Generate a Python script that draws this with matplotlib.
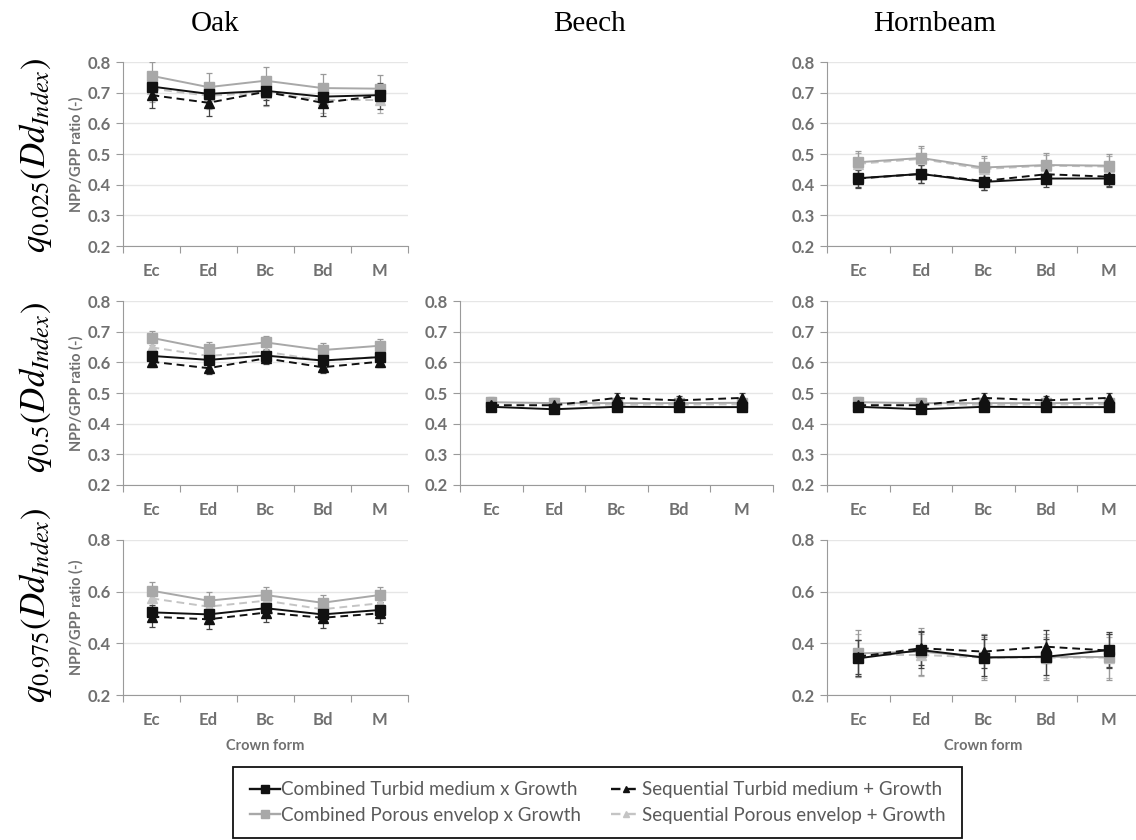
import matplotlib
matplotlib.use("Agg")
import matplotlib.pyplot as plt
from matplotlib.lines import Line2D
from matplotlib.patches import Rectangle
import numpy as np

plt.rcParams['mathtext.fontset'] = 'stix'

categories = ["Ec", "Ed", "Bc", "Bd", "M"]
species = ["Oak", "Beech", "Hornbeam"]
row_labels = [r"$q_{0.025}(Dd_{Index})$", r"$q_{0.5}(Dd_{Index})$", r"$q_{0.975}(Dd_{Index})$"]
series_names = ["Combined Turbid medium x Growth", "Sequential Turbid medium + Growth",
                "Combined Porous envelop x Growth", "Sequential Porous envelop + Growth"]

# Oak
oak_q025_ct = [0.720, 0.696, 0.706, 0.687, 0.692]
oak_q025_st = [0.692, 0.667, 0.703, 0.667, 0.690]
oak_q025_cp = [0.755, 0.718, 0.739, 0.715, 0.713]
oak_q025_sp = [0.713, 0.690, 0.700, 0.676, 0.676]
oak_q025_err = [0.030, 0.042, 0.045, 0.042]

oak_q05_ct = [0.621, 0.608, 0.622, 0.606, 0.617]
oak_q05_st = [0.602, 0.581, 0.613, 0.584, 0.602]
oak_q05_cp = [0.680, 0.643, 0.665, 0.640, 0.654]
oak_q05_sp = [0.649, 0.621, 0.635, 0.605, 0.618]
oak_q05_err = [0.018, 0.018, 0.022, 0.020]

oak_q975_ct = [0.520, 0.512, 0.536, 0.512, 0.529]
oak_q975_st = [0.503, 0.493, 0.519, 0.499, 0.516]
oak_q975_cp = [0.604, 0.565, 0.587, 0.557, 0.587]
oak_q975_sp = [0.574, 0.542, 0.565, 0.532, 0.555]
oak_q975_err = [0.030, 0.038, 0.032, 0.032]

# Beech (only median)
beech_q05_ct = [0.455, 0.447, 0.455, 0.454, 0.454]
beech_q05_st = [0.460, 0.460, 0.484, 0.476, 0.484]
beech_q05_cp = [0.470, 0.467, 0.467, 0.467, 0.468]
beech_q05_sp = [0.462, 0.462, 0.462, 0.462, 0.463]
beech_q05_err = [0.012, 0.015, 0.016, 0.014]

# Hornbeam
horn_q025_ct = [0.421, 0.435, 0.409, 0.420, 0.420]
horn_q025_st = [0.420, 0.435, 0.412, 0.434, 0.426]
horn_q025_cp = [0.473, 0.487, 0.456, 0.464, 0.462]
horn_q025_sp = [0.468, 0.484, 0.451, 0.462, 0.459]
horn_q025_err = [0.028, 0.030, 0.038, 0.035]

horn_q05_ct = [0.455, 0.447, 0.455, 0.454, 0.454]
horn_q05_st = [0.460, 0.460, 0.484, 0.476, 0.484]
horn_q05_cp = [0.470, 0.467, 0.467, 0.467, 0.468]
horn_q05_sp = [0.462, 0.462, 0.462, 0.462, 0.463]
horn_q05_err = [0.012, 0.015, 0.016, 0.014]

horn_q975_ct = [0.342, 0.374, 0.345, 0.348, 0.374]
horn_q975_st = [0.348, 0.381, 0.368, 0.387, 0.372]
horn_q975_cp = [0.361, 0.368, 0.347, 0.348, 0.347]
horn_q975_sp = [0.355, 0.355, 0.345, 0.345, 0.345]
horn_q975_err = [0.070, 0.065, 0.090, 0.080]

panels = {
    (0, 0): ([oak_q025_ct, oak_q025_st, oak_q025_cp, oak_q025_sp], oak_q025_err),
    (1, 0): ([oak_q05_ct, oak_q05_st, oak_q05_cp, oak_q05_sp], oak_q05_err),
    (2, 0): ([oak_q975_ct, oak_q975_st, oak_q975_cp, oak_q975_sp], oak_q975_err),
    (1, 1): ([beech_q05_ct, beech_q05_st, beech_q05_cp, beech_q05_sp], beech_q05_err),
    (0, 2): ([horn_q025_ct, horn_q025_st, horn_q025_cp, horn_q025_sp], horn_q025_err),
    (1, 2): ([horn_q05_ct, horn_q05_st, horn_q05_cp, horn_q05_sp], horn_q05_err),
    (2, 2): ([horn_q975_ct, horn_q975_st, horn_q975_cp, horn_q975_sp], horn_q975_err),
}

W, H = 1136, 840
fig = plt.figure(figsize=(W / 100, H / 100), dpi=100)

col_x = [(123, 408), (460, 773), (827, 1140)]
row_y = [(62, 246), (301, 485), (540, 695)]

styles = [
    dict(color="#111111", ecolor="#444444", ls="-", marker="s", ms=7.5, lw=1.4),
    dict(color="#111111", ecolor="#444444", ls=(0, (4, 2.5)), marker="^", ms=6.5, lw=1.4),
    dict(color="#a8a8a8", ecolor="#9a9a9a", ls="-", marker="s", ms=7.5, lw=1.4),
    dict(color="#c4c4c4", ecolor="#b0b0b0", ls=(0, (4, 2.5)), marker="^", ms=6.5, lw=1.4),
]
draw_order = [3, 2, 1, 0]

tick_font = dict(family="Lato", weight="bold", size=12, color="#707070")
gray = "#9a9a9a"

x = np.arange(len(categories))
for (r, c), (vals, errs) in panels.items():
    x0, x1 = col_x[c]
    y0, y1 = row_y[r]
    ax = fig.add_axes([x0 / W, 1 - y1 / H, (x1 - x0) / W, (y1 - y0) / H])
    ax.set_xlim(-0.5, 4.5)
    ax.set_ylim(0.2, 0.8)
    if r == 2:
        yt = [0.2, 0.4, 0.6, 0.8]
    else:
        yt = [0.2, 0.3, 0.4, 0.5, 0.6, 0.7, 0.8]
    ax.set_yticks(yt)
    ax.set_yticklabels([f"{v:.1f}" for v in yt], fontdict=tick_font)
    ax.yaxis.grid(True, color="#e6e6e6", lw=1)
    ax.set_axisbelow(True)
    ax.set_xticks(np.arange(-0.5, 5.0, 1.0))
    ax.set_xticklabels([])
    ax.set_xticks(x, minor=True)
    ax.set_xticklabels(categories, minor=True, fontdict=tick_font)
    ax.tick_params(axis="x", which="major", length=5, color=gray, direction="out")
    ax.tick_params(axis="x", which="minor", length=0, pad=12)
    ax.tick_params(axis="y", length=5, color=gray, pad=4)
    for s in ["top", "right"]:
        ax.spines[s].set_visible(False)
    ax.spines["left"].set_color(gray)
    ax.spines["bottom"].set_color(gray)
    for i in draw_order:
        st = styles[i]
        ax.errorbar(x, vals[i], yerr=errs[i], color=st["ecolor"], ls="none",
                    elinewidth=0.9, capsize=2, capthick=0.9, zorder=2)
        ax.plot(x, vals[i], color=st["color"], ls=st["ls"], lw=st["lw"],
                marker=st["marker"], ms=st["ms"], zorder=3, clip_on=False)
    if c == 0:
        ax.set_ylabel("NPP/GPP ratio (-)", fontdict=dict(family="Lato", weight="bold", size=10.5, color="#707070"),
                      labelpad=3)
    if r == 2:
        ax.set_xlabel("Crown form", fontdict=dict(family="Lato", weight="bold", size=10.5, color="#707070"),
                      labelpad=8)

# column titles
title_x = [215, 590, 935]
for name, tx in zip(species, title_x):
    fig.text(tx / W, 1 - 24 / H, name, ha="center", va="center",
             family="Liberation Serif", size=21)

# row labels
row_cy = [155, 388, 605]
for lab, cy in zip(row_labels, row_cy):
    fig.text(36 / W, 1 - cy / H, lab, ha="center", va="center", rotation=90, size=25)

# legend box
bx0, bx1, by0, by1 = 233, 962, 767, 838
fig.patches.append(Rectangle((bx0 / W, 1 - by1 / H), (bx1 - bx0) / W, (by1 - by0) / H,
                             transform=fig.transFigure, fill=False, edgecolor="#111111", lw=1.3))

handles = []
for st in styles:
    handles.append(Line2D([0], [0], color=st["color"], ls=st["ls"], lw=st["lw"] + 0.3,
                          marker=st["marker"], ms=st["ms"] - 1.5))
order = [0, 2, 1, 3]
leg = fig.legend([handles[i] for i in order], [series_names[i] for i in order],
                 ncol=2, loc="center", bbox_to_anchor=((bx0 + bx1) / 2 / W, 1 - (by0 + by1) / 2 / H),
                 frameon=False, handlelength=1.6, handletextpad=0.05,
                 columnspacing=1.6, borderpad=0.3, labelspacing=0.45,
                 prop=dict(family="Lato", size=13.5))
for t in leg.get_texts():
    t.set_color("#5a5a5a")

fig.savefig("out.png", dpi=100)
